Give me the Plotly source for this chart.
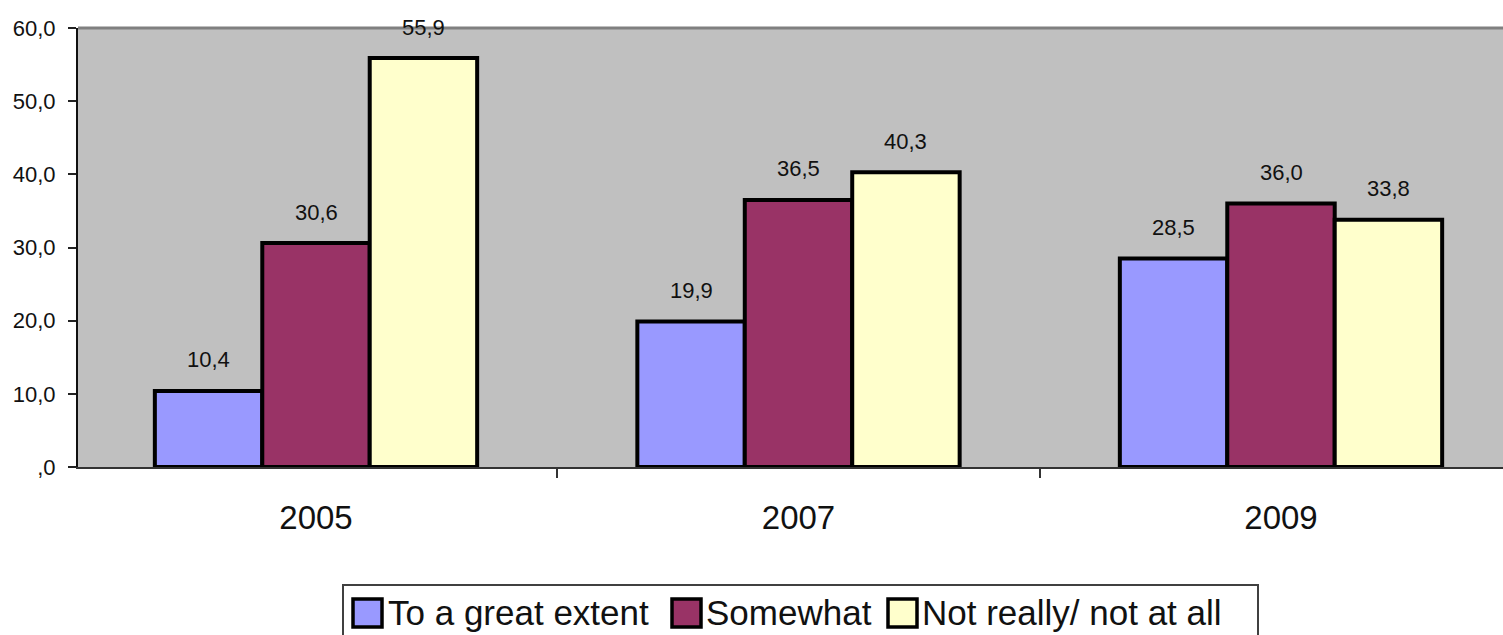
import plotly.graph_objects as go

# Survey results by year (percent of respondents)
years = ["2005", "2007", "2009"]
series_names = ["To a great extent", "Somewhat", "Not really/ not at all"]
great_extent = [10.4, 19.9, 28.5]
somewhat = [30.6, 36.5, 36.0]
not_really = [55.9, 40.3, 33.8]
y_tick_values = [0, 10, 20, 30, 40, 50, 60]
y_tick_labels = [",0", "10,0", "20,0", "30,0", "40,0", "50,0", "60,0"]

colors = ["#9999FF", "#993366", "#FFFFCC"]
values = [great_extent, somewhat, not_really]

W, H = 1503, 635
ML, MT, MB, MR = 78, 28, 168, 0
PW, PH = W - ML - MR, H - MT - MB

BARGAP = 0.332
bar_w = (1 - BARGAP) / 3

FONT = "Liberation Sans, Arial, sans-serif"


def fmt(v):
    return f"{v:.1f}".replace(".", ",")


def px_x(px):
    return (px - ML) / PW


def px_y(py):
    return (MT + PH - py) / PH


fig = go.Figure()
for name, vals, col in zip(series_names, values, colors):
    fig.add_trace(go.Bar(
        name=name, x=years, y=vals,
        marker=dict(color=col, line=dict(color="#000000", width=4)),
        showlegend=False,
    ))

# value labels above each bar
annotations = []
for k, vals in enumerate(values):
    off = (k - 1) * bar_w
    for i, v in enumerate(vals):
        annotations.append(dict(
            x=i + off, y=v, xref="x", yref="y", text=fmt(v),
            showarrow=False, yanchor="middle", yshift=31,
            font=dict(family=FONT, size=22, color="#111111"),
        ))

# legend box drawn beneath the plot
shapes = [
    dict(type="rect", xref="paper", yref="paper",
         x0=px_x(343), x1=px_x(1258), y0=px_y(645), y1=px_y(585),
         line=dict(color="#404040", width=2), fillcolor="white", layer="above"),
    # plot-area top edge
    dict(type="line", xref="paper", yref="paper", x0=0, x1=1, y0=1, y1=1,
         line=dict(color="#808080", width=3)),
]
legend_items = [(353, 386), (672, 704), (888, 920)]
for (sq_x, tx_x), name, col in zip(legend_items, series_names, colors):
    shapes.append(dict(
        type="rect", xref="paper", yref="paper",
        x0=px_x(sq_x), x1=px_x(sq_x + 29), y0=px_y(627), y1=px_y(599),
        line=dict(color="#000000", width=3.5), fillcolor=col, layer="above",
    ))
    annotations.append(dict(
        x=px_x(tx_x), y=px_y(612), xref="paper", yref="paper", text=name,
        showarrow=False, xanchor="left", yanchor="middle",
        font=dict(family=FONT, size=35, color="#111111"),
    ))

x_lo = -(316 - ML) / 482.5
x_hi = 2 + (W - 1281) / 482.5

fig.update_layout(
    width=W, height=H,
    margin=dict(l=ML, r=MR, t=MT, b=MB, pad=0),
    paper_bgcolor="white", plot_bgcolor="#C0C0C0",
    barmode="group", bargap=BARGAP, bargroupgap=0,
    showlegend=False,
    annotations=annotations, shapes=shapes,
    font=dict(family=FONT, color="#111111"),
    xaxis=dict(
        type="category", range=[x_lo, x_hi], tickson="boundaries",
        ticks="outside", ticklen=9, tickwidth=2, tickcolor="#333333",
        showline=True, linecolor="#333333", linewidth=2,
        showgrid=False, zeroline=False,
        tickfont=dict(family=FONT, size=33, color="#111111"),
        ticklabelstandoff=20,
    ),
    yaxis=dict(
        range=[0, 60], tickvals=y_tick_values, ticktext=y_tick_labels,
        ticks="outside", ticklen=8, tickwidth=2, tickcolor="#222222",
        showline=True, linecolor="#111111", linewidth=2,
        showgrid=False, zeroline=False,
        tickfont=dict(family=FONT, size=22, color="#111111"),
        ticklabelstandoff=8,
    ),
)

fig.write_html("out.html")
